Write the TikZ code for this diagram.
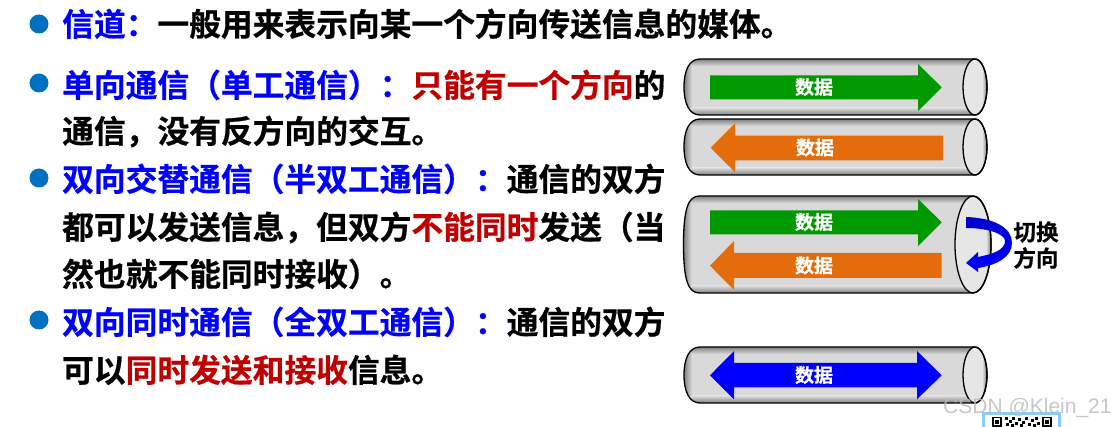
\documentclass[tikz,border=0pt]{standalone}
\usepackage{fontspec}
\setmainfont{Noto Sans CJK SC}[BoldFont={Noto Sans CJK SC Bold},BoldFeatures={FakeBold=0.6}]
\newfontfamily\wm{Liberation Sans}
\definecolor{bul}{HTML}{0070C0}
\definecolor{ttl}{HTML}{0000FF}
\definecolor{hot}{HTML}{C00000}
\definecolor{grn}{HTML}{009900}
\definecolor{org}{HTML}{E46C0A}
\definecolor{blu}{HTML}{0000FF}
\definecolor{tube}{HTML}{D9D9D9}
\definecolor{tubed}{HTML}{7F7F7F}
\definecolor{endc}{HTML}{E6E6E6}
\definecolor{qrb}{HTML}{87CEFA}
\tikzset{
 line/.style={anchor=base west,inner sep=0pt,font=\fontsize{31.75}{32}\selectfont\bfseries,text=black},
 bullet/.style={circle,fill=bul,minimum size=19pt,inner sep=0pt},
 lbl/.style={inner sep=0pt,text=white,font=\fontsize{19}{20}\selectfont\bfseries},
 side/.style={inner sep=0pt,text=black,font=\fontsize{22.5}{23}\selectfont\bfseries},
}
\newcommand{\tubepath}[6]{(#1+16,#4) -- (#2,#4) arc[start angle=-90,end angle=90,x radius=#6,y radius=(#5-#4)/2] -- (#1+16,#5)
     .. controls (#1+5,#5) and (#1,#5-12) .. (#1,{(#4+#5)/2}) .. controls (#1,#4+12) and (#1+5,#4) .. (#1+16,#4) -- cycle}
\newcommand{\tubeshape}[6]{% x0,xe,x1,y0,y1,rx
 \begin{scope}
  \clip \tubepath{#1}{#2}{#3}{#4}{#5}{#6};
  \fill[tube] (#1,#4+7) rectangle (#3,#5-7);
  \shade[top color=tubed,bottom color=tube] (#1,#4) rectangle (#3,#4+7);
  \shade[top color=tube,bottom color=tubed] (#1,#5-7) rectangle (#3,#5);
  \shade[left color=tubed,right color=tube] (#1,#4+7) rectangle (#1+8,#5-7);
  \fill[endc] (#2,{(#4+#5)/2}) ellipse[x radius=#6,y radius=(#5-#4)/2];
  \shade[left color=endc,right color=tubed] (#2+#6-5,#4) rectangle (#2+#6,#5);
 \end{scope}
 \draw[line width=1.3pt] \tubepath{#1}{#2}{#3}{#4}{#5}{#6};
 \draw[line width=1.3pt] (#2,{(#4+#5)/2}) ellipse[x radius=#6,y radius=(#5-#4)/2];
}
\begin{document}
\begin{tikzpicture}[x=1pt,y=-1pt]
\useasboundingbox (0,0) rectangle (1114,427);
\fill[white] (0,0) rectangle (1114,427);
% bullets
\node[bullet] (b1) at (39,24) {};
\node[bullet] (b2) at (39,83) {};
\node[bullet] (b3) at (39,178) {};
\node[bullet] (b4) at (39,320) {};
% text
\node[line] (t1) at (62,36) {\textcolor{ttl}{信道：}一般用来表示向某一个方向传送信息的媒体。};
\node[line] (t2) at (62,97) {\textcolor{ttl}{单向通信（单工通信）：}\textcolor{hot}{只能有一个方向}的};
\node[line] (t3) at (62,143) {通信，没有反方向的交互。};
\node[line] (t4) at (62,191) {\textcolor{ttl}{双向交替通信（半双工通信）：}通信的双方};
\node[line] (t5) at (62,239) {都可以发送信息，但双方\textcolor{hot}{不能同时}发送（当};
\node[line] (t6) at (62,286) {然也就不能同时接收）。};
\node[line] (t7) at (62,334) {\textcolor{ttl}{双向同时通信（全双工通信）：}通信的双方};
\node[line] (t8) at (62,382) {可以\textcolor{hot}{同时发送和接收}信息。};
% tubes
\tubeshape{684}{975}{987}{59}{115}{12}
\tubeshape{684}{975}{987}{119}{175}{12}
\tubeshape{683.5}{973}{991}{196}{293}{18}
\tubeshape{684}{975}{987}{347}{403}{12}
% arrows
\fill[grn] (710,75.3) -- (918,75.3) -- (918,64) -- (941.7,87.3) -- (918,111) -- (918,99.3) -- (710,99.3) -- cycle;
\fill[org] (943,135.7) -- (735,135.7) -- (735,123.3) -- (710.7,147.7) -- (735,172.3) -- (735,160.3) -- (943,160.3) -- cycle;
\fill[grn] (710,210.3) -- (918,210.3) -- (918,199) -- (941.7,222.3) -- (918,246) -- (918,234.3) -- (710,234.3) -- cycle;
\fill[org] (941.7,253) -- (734,253) -- (734,241) -- (710,265.7) -- (734,290) -- (734,278) -- (941.7,278) -- cycle;
\fill[blu] (734,363) -- (917,363) -- (917,351) -- (941.7,375.3) -- (917,399.3) -- (917,387.3) -- (734,387.3) -- (734,399.3) -- (710,375.3) -- (734,351) -- cycle;
\node[lbl] (d1) at (814,87) {数据};
\node[lbl] (d2) at (815,147.5) {数据};
\node[lbl] (d3) at (814,222) {数据};
\node[lbl] (d4) at (814,265.5) {数据};
\node[lbl] (d5) at (814,375) {数据};
% switch arrow
\shade[top color=blu!80!black,bottom color=blu]
 (966,217) .. controls (995,218) and (1012,228) .. (1012,243)
 .. controls (1012,257) and (997,265) .. (978,268) -- (978,272) -- (966,263) -- (978,252) -- (978,257)
 .. controls (993,254) and (1005,250) .. (1005,241)
 .. controls (1005,234) and (988,228) .. (966,228) -- cycle;
\node[side] (s1) at (1036,232) {切换};
\node[side] (s2) at (1036,258) {方向};
% QR fragment
\begin{scope}
 \clip (970,405) rectangle (1070,427);
 \draw[qrb,line width=3pt,fill=white] (983.5,413.5) rectangle (1059.5,440);
 \foreach \qx in {992,1042}{
  \draw[black,line width=1.5pt] (\qx+.75,417.75) rectangle (\qx+9,426);
  \fill[black] (\qx+3,420) rectangle (\qx+6.8,423.8);
 }
 \foreach \qx/\qy in {1005/417,1009/420,1012/417,1015/422,1018/418,1022/421,1025/417,1028/423,1031/419,1035/417,1037/422,1006/423,1011/424,1020/424,1033/424}{
  \fill[black] (\qx,\qy) rectangle (\qx+2.6,\qy+2.6);
 }
\end{scope}
% watermark
\node[inner sep=0pt,anchor=base west,text=gray!55,opacity=.8,font=\wm\fontsize{21}{22}\selectfont] (w) at (943,414) {CSDN @Klein\_21};
\end{tikzpicture}
\end{document}
